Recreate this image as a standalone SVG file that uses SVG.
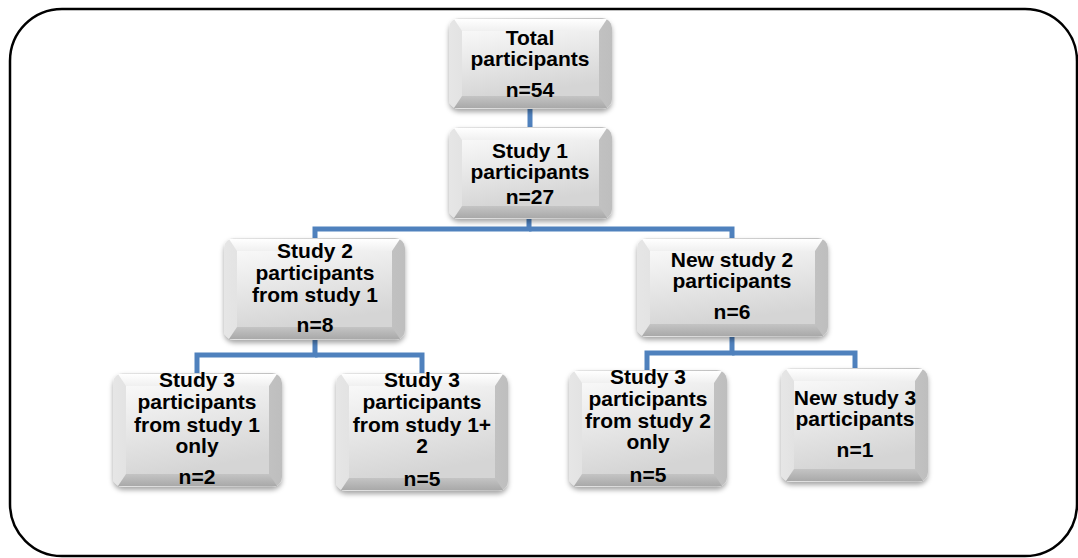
<svg xmlns="http://www.w3.org/2000/svg" width="1078" height="558" viewBox="0 0 1078 558">
<defs>
<linearGradient id="side" x1="0" y1="0" x2="1" y2="0">
<stop offset="0" stop-color="#e6e6e6"/><stop offset="1" stop-color="#bebebe"/>
</linearGradient>
<linearGradient id="topb" x1="0" y1="0" x2="0" y2="1">
<stop offset="0" stop-color="#ffffff"/><stop offset="1" stop-color="#f0f0f0"/>
</linearGradient>
<linearGradient id="botb" x1="0" y1="0" x2="0" y2="1">
<stop offset="0" stop-color="#c4c4c4"/><stop offset="1" stop-color="#a9a9a9"/>
</linearGradient>
<linearGradient id="face" x1="0" y1="0" x2="0.3" y2="1">
<stop offset="0" stop-color="#f8f8f8"/><stop offset="1" stop-color="#d5d5d5"/>
</linearGradient>
<filter id="shadow" x="-10%" y="-10%" width="120%" height="130%">
<feDropShadow dx="0" dy="3" stdDeviation="2.5" flood-color="#000" flood-opacity="0.35"/>
</filter>
<style>
.frame{fill:#fff;stroke:#000;stroke-width:2.5}
.conn{fill:none;stroke:#4f81bd;stroke-width:5;stroke-linejoin:miter}
.outer{fill:url(#side);filter:url(#shadow)}
.tb{fill:url(#topb)}
.bb{fill:url(#botb)}
.fc{fill:url(#face)}
text{font-family:"Liberation Sans",Arial,sans-serif;font-weight:bold;font-size:21px;fill:#000;text-anchor:middle}
</style>
</defs>
<rect class="frame" x="10" y="9" width="1067" height="547" rx="52" ry="52"/>
<g id="connectors">
<path class="conn" d="M530,107 V129"/>
<path class="conn" d="M529,217 V229 H315 V240"/>
<path class="conn" d="M529,229 H732 V240"/>
<path class="conn" d="M315,338 V355 H197 V375"/>
<path class="conn" d="M315,355 H422 V375"/>
<path class="conn" d="M732,335 V353 H647 V372"/>
<path class="conn" d="M732,353 H855 V370"/>
</g>
<g id="total">
<rect class="outer" x="449" y="18" width="163" height="91" rx="10"/>
<polygon class="tb" points="454,19 607,19 599,31 462,31"/>
<polygon class="bb" points="462,96 599,96 607,108 454,108"/>
<rect class="fc" x="462" y="31" width="137" height="65"/>
<text x="530" y="45">Total</text>
<text x="530" y="66">participants</text>
<text x="530" y="97">n=54</text>
</g>
<g id="study1">
<rect class="outer" x="449" y="127" width="163" height="92" rx="10"/>
<polygon class="tb" points="454,128 607,128 599,140 462,140"/>
<polygon class="bb" points="462,206 599,206 607,218 454,218"/>
<rect class="fc" x="462" y="140" width="137" height="66"/>
<text x="530" y="158">Study 1</text>
<text x="530" y="179">participants</text>
<text x="530" y="204">n=27</text>
</g>
<g id="study2">
<rect class="outer" x="224" y="238" width="181" height="102" rx="10"/>
<polygon class="tb" points="229,239 400,239 392,251 237,251"/>
<polygon class="bb" points="237,327 392,327 400,339 229,339"/>
<rect class="fc" x="237" y="251" width="155" height="76"/>
<text x="315" y="258">Study 2</text>
<text x="315" y="280">participants</text>
<text x="315" y="302">from study 1</text>
<text x="315" y="332">n=8</text>
</g>
<g id="newstudy2">
<rect class="outer" x="637" y="238" width="191" height="99" rx="10"/>
<polygon class="tb" points="642,239 823,239 815,251 650,251"/>
<polygon class="bb" points="650,324 815,324 823,336 642,336"/>
<rect class="fc" x="650" y="251" width="165" height="73"/>
<text x="732" y="267">New study 2</text>
<text x="732" y="288">participants</text>
<text x="732" y="319">n=6</text>
</g>
<g id="study3a">
<rect class="outer" x="113" y="373" width="169" height="114" rx="10"/>
<polygon class="tb" points="118,374 277,374 269,386 126,386"/>
<polygon class="bb" points="126,474 269,474 277,486 118,486"/>
<rect class="fc" x="126" y="386" width="143" height="88"/>
<text x="197" y="387">Study 3</text>
<text x="197" y="409">participants</text>
<text x="197" y="432">from study 1</text>
<text x="197" y="453">only</text>
<text x="197" y="484">n=2</text>
</g>
<g id="study3b">
<rect class="outer" x="336" y="373" width="172" height="118" rx="10"/>
<polygon class="tb" points="341,374 503,374 495,386 349,386"/>
<polygon class="bb" points="349,478 495,478 503,490 341,490"/>
<rect class="fc" x="349" y="386" width="146" height="92"/>
<text x="422" y="387">Study 3</text>
<text x="422" y="409">participants</text>
<text x="422" y="432">from study 1+</text>
<text x="422" y="453">2</text>
<text x="422" y="486">n=5</text>
</g>
<g id="study3c">
<rect class="outer" x="569" y="370" width="158" height="117" rx="10"/>
<polygon class="tb" points="574,371 722,371 714,383 582,383"/>
<polygon class="bb" points="582,474 714,474 722,486 574,486"/>
<rect class="fc" x="582" y="383" width="132" height="91"/>
<text x="648" y="384">Study 3</text>
<text x="648" y="406">participants</text>
<text x="648" y="428">from study 2</text>
<text x="648" y="449">only</text>
<text x="648" y="482">n=5</text>
</g>
<g id="newstudy3">
<rect class="outer" x="781" y="368" width="147" height="114" rx="10"/>
<polygon class="tb" points="786,369 923,369 915,381 794,381"/>
<polygon class="bb" points="794,469 915,469 923,481 786,481"/>
<rect class="fc" x="794" y="381" width="121" height="88"/>
<text x="855" y="405">New study 3</text>
<text x="855" y="426">participants</text>
<text x="855" y="457">n=1</text>
</g>
</svg>
